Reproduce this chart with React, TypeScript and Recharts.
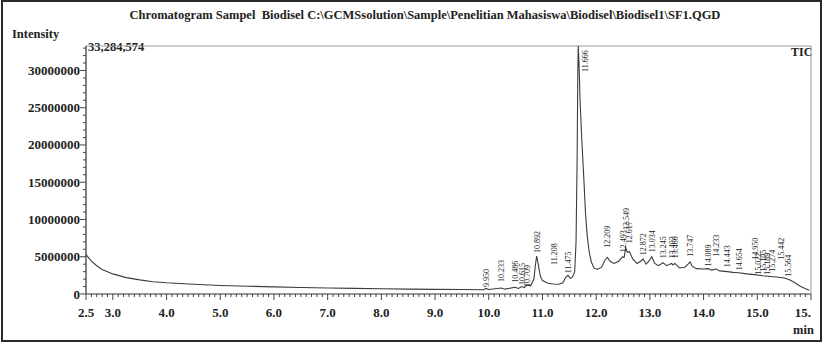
import React from "react";
import { LineChart, Line, XAxis, YAxis, ReferenceLine, ReferenceDot } from "recharts";

// retention time (min) and TIC intensity
const retentionTimes = [
  2.5, 2.6, 2.7, 2.8, 2.9, 3.0, 3.25, 3.5, 3.75, 4.0, 4.5, 5.0, 5.5, 6.0, 6.5, 7.0, 7.5, 8.0, 8.5, 9.0,
  9.5, 9.9, 9.95, 10.0, 10.233, 10.3, 10.486, 10.55, 10.615, 10.66, 10.709, 10.78, 10.84, 10.87, 10.892,
  10.92, 10.96, 11.0, 11.1, 11.208, 11.3, 11.38, 11.43, 11.475, 11.52, 11.56, 11.6, 11.625, 11.645,
  11.658, 11.666, 11.68, 11.7, 11.73, 11.77, 11.8, 11.83, 11.87, 11.91, 11.96, 12.02, 12.1, 12.16,
  12.209, 12.26, 12.33, 12.42, 12.493, 12.52, 12.549, 12.58, 12.617, 12.68, 12.76, 12.83, 12.872,
  12.93, 12.98, 13.034, 13.09, 13.16, 13.245, 13.31, 13.403, 13.43, 13.466, 13.55, 13.65, 13.71,
  13.747, 13.79, 13.87, 14.0, 14.089, 14.15, 14.233, 14.3, 14.443, 14.55, 14.654, 14.8, 14.95, 15.1,
  15.25, 15.4, 15.5, 15.6, 15.7, 15.8, 15.9, 15.97,
];
const intensities = [
  5300000, 4400000, 3800000, 3300000, 3000000, 2700000, 2200000, 1900000, 1650000, 1500000, 1300000,
  1150000, 1050000, 950000, 880000, 800000, 750000, 700000, 650000, 620000,
  600000, 580000, 750000, 600000, 800000, 650000, 900000, 750000, 1000000, 850000, 1200000, 1100000,
  2000000, 4000000, 5100000,
  4000000, 2400000, 1800000, 1450000, 1350000, 1300000, 1500000, 2200000, 2500000, 2100000, 2300000,
  3000000, 7000000, 18000000,
  30000000, 33284574, 31000000, 26000000, 21000000, 15500000, 11000000, 8000000, 5600000, 4300000,
  3500000, 3300000, 3600000, 4500000,
  4900000, 4400000, 4100000, 4400000, 5000000, 4900000, 6200000, 5600000, 5700000, 4700000, 4100000,
  4400000, 4700000,
  4000000, 4400000, 5000000, 4100000, 3800000, 4200000, 3800000, 4100000, 3900000, 4100000, 3500000,
  3600000, 4000000,
  4300000, 3700000, 3400000, 3350000, 3400000, 3200000, 3350000, 3100000, 3000000, 2900000, 2850000,
  2700000, 2600000, 2450000,
  2350000, 2250000, 2150000, 1900000, 1500000, 1050000, 700000, 500000,
];

const peakLabels = [
  "9.950", "10.233", "10.486", "10.615", "10.709", "10.892", "11.208", "11.475", "11.666", "12.209",
  "12.493", "12.549", "12.617", "12.872", "13.034", "13.245", "13.403", "13.466", "13.747", "14.089",
  "14.233", "14.443", "14.654", "14.950", "15.022", "15.105", "15.189", "15.274", "15.442", "15.564",
];
// intensity where each label text starts
const peakLabelBase = [
  950000, 1600000, 1500000, 1200000, 950000, 5500000, 3900000, 2800000, 29800000, 6200000,
  5600000, 8600000, 6800000, 5200000, 5600000, 4800000, 4800000, 4800000, 5000000, 3700000,
  5000000, 3600000, 3200000, 4600000, 2600000, 3000000, 2600000, 3000000, 4600000, 2300000,
];

const xMajorTicks = [2.5, 3, 4, 5, 6, 7, 8, 9, 10, 11, 12, 13, 14, 15, 16];
const xTickLabels = ["2.5", "3.0", "4.0", "5.0", "6.0", "7.0", "8.0", "9.0", "10.0", "11.0", "12.0", "13.0", "14.0", "15.0", "15."];
const yMajorTicks = [0, 5000000, 10000000, 15000000, 20000000, 25000000, 30000000];
const yTickLabels = ["0", "5000000", "10000000", "15000000", "20000000", "25000000", "30000000"];

const Y_MAX = 33284574;
const xMinorTicks = Array.from({ length: 136 }, (_, i) => +(2.5 + i * 0.1).toFixed(1));
const yMinorTicks = Array.from({ length: 34 }, (_, i) => i * 1000000);

const trace = retentionTimes.map((t, i) => ({ t, v: intensities[i] }));

const FONT = "'Liberation Serif', 'DejaVu Serif', serif";
const INK = "#222";

const XTick = (props: any) => {
  const { x, y, payload } = props;
  const idx = xMajorTicks.findIndex((m) => Math.abs(m - payload.value) < 1e-6);
  const major = idx >= 0;
  return (
    <g>
      <line x1={x} y1={y} x2={x} y2={y + (major ? 6 : 3)} stroke="#444" strokeWidth={1} />
      {major && (
        <text
          x={x}
          y={y + 23}
          textAnchor={idx === xMajorTicks.length - 1 ? "end" : "middle"}
          fontFamily={FONT}
          fontWeight="bold"
          fontSize={13}
          fill={INK}
        >
          {xTickLabels[idx]}
        </text>
      )}
    </g>
  );
};

const YTick = (props: any) => {
  const { x, y, payload } = props;
  const idx = yMajorTicks.indexOf(payload.value);
  const major = idx >= 0;
  return (
    <g>
      <line x1={x} y1={y} x2={x - (major ? 6 : 3)} y2={y} stroke="#444" strokeWidth={1} />
      {major && (
        <text x={x - 6} y={y + 4.5} textAnchor="end" fontFamily={FONT} fontWeight="bold" fontSize={13} fill={INK}>
          {yTickLabels[idx]}
        </text>
      )}
    </g>
  );
};

const peakLabel = (text: string, dx: number) => (props: any) => {
  const vb = props.viewBox || {};
  const x = (vb.x ?? 0) + (vb.width ?? 0) / 2 + dx;
  const y = (vb.y ?? 0) + (vb.height ?? 0) / 2;
  return (
    <text
      transform={`translate(${x},${y}) rotate(-90)`}
      fontFamily={FONT}
      fontSize={8}
      fill={INK}
      textAnchor="start"
    >
      {text}
    </text>
  );
};

export default function App() {
  return (
    <div style={{ position: "absolute", left: 0, top: 0, width: 825, height: 344, background: "#fff", fontFamily: FONT }}>
      <div
        style={{
          position: "absolute",
          left: 1,
          top: 0,
          width: 821,
          height: 342,
          border: "2px solid #2a2a2a",
          boxSizing: "border-box",
        }}
      />
      <div style={{ position: "absolute", left: 0, top: 8, width: 850, textAlign: "center", fontSize: 12.5, fontWeight: "bold", color: INK, whiteSpace: "pre" }}>
        {"Chromatogram Sampel  Biodisel C:\\GCMSsolution\\Sample\\Penelitian Mahasiswa\\Biodisel\\Biodisel1\\SF1.QGD"}
      </div>
      <div style={{ position: "absolute", left: 12, top: 27, fontSize: 12.5, fontWeight: "bold", color: INK }}>Intensity</div>
      <div style={{ position: "absolute", left: 88, top: 40, fontSize: 12.5, fontWeight: "bold", color: INK }}>33,284,574</div>
      <div style={{ position: "absolute", left: 791, top: 45, fontSize: 12, fontWeight: "bold", color: INK }}>TIC</div>
      <div style={{ position: "absolute", left: 793, top: 323, fontSize: 12.5, fontWeight: "bold", color: INK }}>min</div>
      <div style={{ position: "absolute", left: 0, top: 0 }}>
        <LineChart width={825} height={344} data={trace} margin={{ top: 46, right: 14, bottom: 0, left: 0 }}>
          <XAxis
            dataKey="t"
            type="number"
            domain={[2.5, 16]}
            ticks={xMinorTicks}
            interval={0}
            height={50}
            tickSize={0}
            tickMargin={0}
            tickLine={false}
            tick={<XTick />}
            axisLine={{ stroke: "#333", strokeWidth: 1.2 }}
            allowDataOverflow
          />
          <YAxis
            type="number"
            domain={[0, Y_MAX]}
            ticks={yMinorTicks}
            interval={0}
            width={86}
            tickSize={0}
            tickMargin={0}
            tickLine={false}
            tick={<YTick />}
            axisLine={{ stroke: "#333", strokeWidth: 1.2 }}
            allowDataOverflow
          />
          <ReferenceLine y={Y_MAX} stroke="#9a9a9a" strokeWidth={1} ifOverflow="extendDomain" />
          <ReferenceLine x={16} stroke="#9a9a9a" strokeWidth={1} />
          <Line
            type="linear"
            dataKey="v"
            stroke="#3c3c3c"
            strokeWidth={1.1}
            dot={false}
            isAnimationActive={false}
          />
          {peakLabels.map((lab, i) => (
            <ReferenceDot
              key={lab}
              x={+lab}
              y={peakLabelBase[i]}
              r={0}
              fill="none"
              stroke="none"
              label={peakLabel(lab, lab === "11.666" ? 10 : 3)}
            />
          ))}
        </LineChart>
      </div>
    </div>
  );
}
